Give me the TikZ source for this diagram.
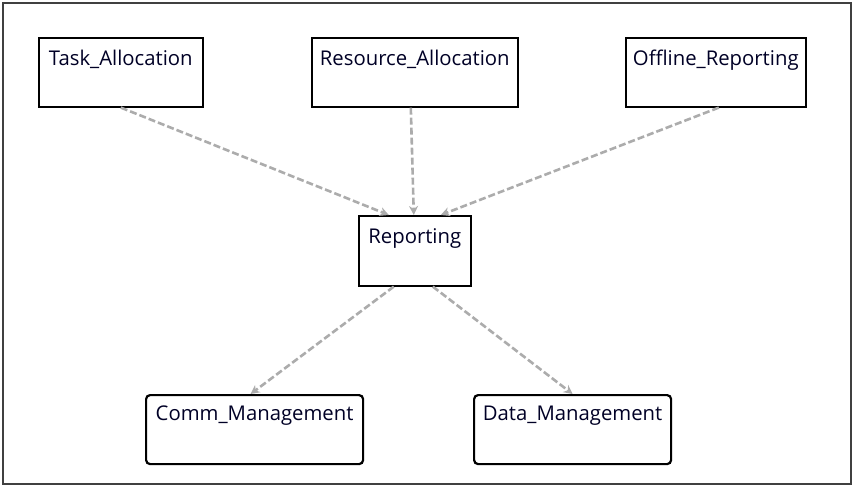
\documentclass[tikz,border=0pt]{standalone}
\usepackage{fontspec}
\setmainfont{Open Sans}
\usetikzlibrary{arrows.meta}
\begin{document}
\begin{tikzpicture}[x=1pt,y=-1pt,
  box/.style={draw=black, line width=1.6pt, fill=white, anchor=north west, inner sep=0pt},
  rbox/.style={box, rounded corners=4pt, line width=2.2pt},
  lbl/.style={anchor=north, inner sep=0pt, font=\fontsize{20.3}{23}\selectfont, text=black!85!blue},
  dep/.style={draw=gray!65, line width=2.6pt, dash pattern=on 7pt off 3pt, -{Stealth[length=9pt,width=9pt]}}]
\useasboundingbox (0,0) rectangle (854,487);
\draw[line width=1.6pt, draw=black!75] (3,3) rectangle (851,484);
\node[box, minimum width=164pt, minimum height=69pt] (task) at (38,37) {};
\node[lbl] (taskl) at ([yshift=-13pt]task.north) {Task\_Allocation};
\node[box, minimum width=206pt, minimum height=69pt] (res) at (311,37) {};
\node[lbl] (resl) at ([yshift=-13pt]res.north) {Resource\_Allocation};
\node[box, minimum width=180pt, minimum height=69pt] (off) at (625,37) {};
\node[lbl] (offl) at ([yshift=-13pt]off.north) {Offline\_Reporting};
\node[box, minimum width=112pt, minimum height=70pt] (rep) at (358,215) {};
\node[lbl] (repl) at ([yshift=-13pt]rep.north) {Reporting};
\node[rbox, minimum width=217pt, minimum height=69pt] (comm) at (145,394) {};
\node[lbl] (comml) at ([yshift=-12pt]comm.north) {Comm\_Management};
\node[rbox, minimum width=197pt, minimum height=69pt] (data) at (473,394) {};
\node[lbl] (datal) at ([yshift=-12pt]data.north) {Data\_Management};
\draw[dep] (task.south) -- ([xshift=-26pt]rep.north);
\draw[dep] ([xshift=-4pt]res.south) -- ([xshift=-1pt]rep.north);
\draw[dep] ([xshift=3pt]off.south) -- ([xshift=26pt]rep.north);
\draw[dep] ([xshift=-21pt]rep.south) -- ([xshift=-4pt]comm.north);
\draw[dep] ([xshift=18pt]rep.south) -- ([xshift=0pt]data.north);
\end{tikzpicture}
\end{document}
